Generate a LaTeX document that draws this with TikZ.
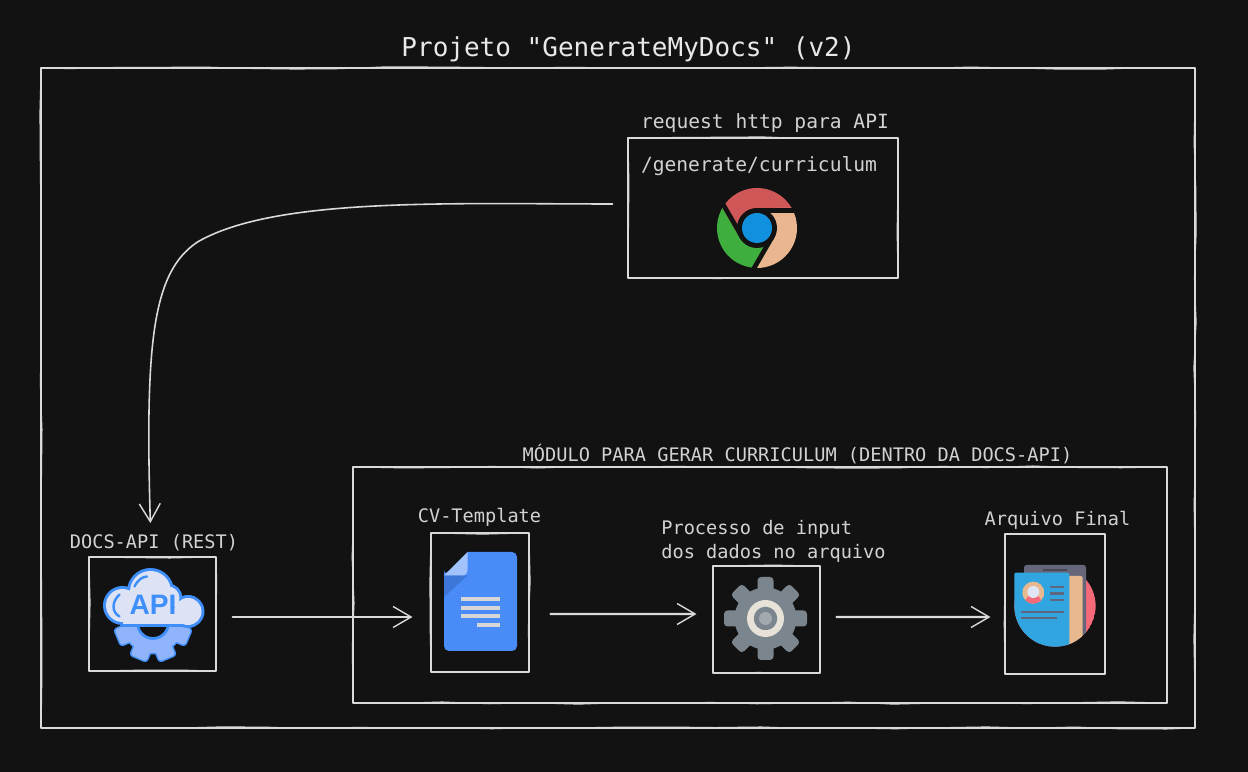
\documentclass[tikz,border=0pt]{standalone}
\usepackage{fontspec}
\setmainfont{Liberation Sans}
\setmonofont{DejaVu Sans Mono}
\usetikzlibrary{arrows.meta,decorations.pathmorphing}
\definecolor{bgcol}{HTML}{121212}
\definecolor{linecol}{HTML}{DADADA}
\definecolor{titlecol}{HTML}{E8E8E8}
\definecolor{labelcol}{HTML}{D2D2D2}
\definecolor{apiblue}{HTML}{3F8FFB}
\definecolor{apicloud}{HTML}{DDE3F5}
\definecolor{apigear}{HTML}{8FB4FB}
\definecolor{docblue}{HTML}{4A8CF7}
\definecolor{docfold}{HTML}{A1C2FA}
\definecolor{docshade}{HTML}{3D77D8}
\definecolor{gearcol}{HTML}{7A858E}
\definecolor{gearring}{HTML}{E6E2D8}
\definecolor{cvred}{HTML}{F56A78}
\definecolor{cvcard}{HTML}{66667A}
\definecolor{cvblue}{HTML}{31A5E0}
\definecolor{cvpeach}{HTML}{E8B88F}
\definecolor{cvline}{HTML}{5E6680}
\definecolor{chromered}{HTML}{CF5757}
\definecolor{chromegreen}{HTML}{3EAE3E}
\definecolor{chromepeach}{HTML}{EAB68F}
\definecolor{chromeblue}{HTML}{1190DD}
\tikzset{
    sketchbox/.style={draw=linecol, line width=0.6pt, inner sep=0pt,
        postaction={draw=linecol, line width=0.5pt, decorate,
            decoration={random steps, segment length=0.9cm, amplitude=0.7pt}}},
    sketcharrow/.style={draw=linecol, line width=0.9pt,
        -{Straight Barb[length=0.36cm, width=0.42cm, line width=0.8pt]}},
    titletext/.style={text=titlecol, font=\ttfamily\fontsize{14.8}{18}\selectfont},
    labeltext/.style={text=labelcol, font=\ttfamily\fontsize{10.6}{13.6}\selectfont},
    urltext/.style={text=labelcol, font=\ttfamily\fontsize{11.15}{14}\selectfont},
}
\begin{document}
\begin{tikzpicture}[line cap=round, line join=round]
    \pgfmathsetseed{7}
    \fill[bgcol] (0,0) rectangle (24.96,15.44);
    \useasboundingbox (0,0) rectangle (24.96,15.44);

    \node[titletext] (title) at (12.57,14.45) {Projeto "GenerateMyDocs" (v2)};
    \node[sketchbox, minimum width=23.08cm, minimum height=13.2cm] (outerbox) at (12.36,7.48) {};

    \node[urltext] (reqlabel) at (15.3,12.97) {request http para API};
    \node[sketchbox, minimum width=5.4cm, minimum height=2.8cm] (reqbox) at (15.26,11.28) {};
    \node[urltext] (url) at (15.18,12.12) {/generate/curriculum};

    \node[labeltext] (docslabel) at (3.08,4.59) {DOCS-API (REST)};
    \node[sketchbox, minimum width=2.54cm, minimum height=2.28cm] (docsbox) at (3.05,3.16) {};

    \node[labeltext] (modlabel) at (15.95,6.35) {MÓDULO PARA GERAR CURRICULUM (DENTRO DA DOCS-API)};
    \node[sketchbox, minimum width=16.28cm, minimum height=4.72cm] (modbox) at (15.2,3.74) {};

    \node[labeltext] (cvlabel) at (9.59,5.09) {CV-Template};
    \node[sketchbox, minimum width=1.96cm, minimum height=2.78cm] (cvbox) at (9.6,3.39) {};

    \node[labeltext, align=left] (proclabel) at (15.47,4.62) {Processo de input\\dos dados no arquivo};
    \node[sketchbox, minimum width=2.14cm, minimum height=2.14cm] (procbox) at (15.33,3.05) {};

    \node[labeltext] (finallabel) at (21.15,5.03) {Arquivo Final};
    \node[sketchbox, minimum width=2cm, minimum height=2.8cm] (finalbox) at (21.1,3.36) {};

    \draw[sketcharrow, shorten <=0.3cm, shorten >=0.1cm] ([yshift=0.08cm]reqbox.west)
        .. controls (9,11.36) and (5.5,11.5) .. (3.95,10.6)
        .. controls (3.05,10.0) and (2.9,8.6) .. ([xshift=-0.07cm]docslabel.north);
    \draw[sketcharrow, shorten <=0.32cm, shorten >=0.36cm] ([yshift=-0.06cm]docsbox.east) -- ([yshift=-0.29cm]cvbox.west);
    \draw[sketcharrow, line width=1.2pt, shorten <=0.42cm, shorten >=0.32cm] ([yshift=-0.23cm]cvbox.east) -- ([yshift=0.11cm]procbox.west);
    \draw[sketcharrow, line width=1.2pt, shorten <=0.32cm, shorten >=0.28cm] ([yshift=0.05cm]procbox.east) -- ([yshift=-0.26cm]finalbox.west);

    \begin{scope}[shift={(15.14,10.88)}]
        \foreach \col/\rot in {chromered/0, chromegreen/120, chromepeach/240}
            \fill[\col, rotate=\rot] (30:0.8) arc (30:150:0.8) -- (-0.346,-0.2) -- (0,0.4) -- cycle;
        \foreach \rot in {0,120,240}
            \draw[bgcol, line width=2.6pt, rotate=\rot] (0,0.35) -- (0.85,0.35);
        \fill[bgcol] (0,0) circle (0.4);
        \fill[chromeblue] (0,0) circle (0.3);
    \end{scope}

    \begin{scope}[shift={(3.06,2.98)}]
        \foreach \ang in {-22.5,-67.5,-112.5,-157.5}
            \draw[apiblue, line width=1.6pt, rounded corners=0.05cm, rotate=\ang] (0.45,-0.17) rectangle (0.76,0.17);
        \draw[apiblue, line width=1.6pt] (0,0) circle (0.6);
        \foreach \ang in {-22.5,-67.5,-112.5,-157.5}
            \fill[apigear, rounded corners=0.05cm, rotate=\ang] (0.45,-0.17) rectangle (0.76,0.17);
        \fill[apigear] (0,0) circle (0.6);
        \draw[apiblue, fill=bgcol, line width=1.6pt] (0,0) circle (0.31);
        \draw[apiblue, line width=3.4pt] (0.7,0.23) circle (0.27) (-0.05,0.63) circle (0.41) (-0.61,0.35) circle (0.33) (0.3,0.5) circle (0.23);
        \draw[apiblue, line width=3.4pt] (-0.61,-0.03) rectangle (0.7,0.3);
        \fill[apicloud] (0.7,0.23) circle (0.27) (-0.05,0.63) circle (0.41) (-0.61,0.35) circle (0.33) (0.3,0.5) circle (0.23);
        \fill[apicloud] (-0.61,-0.03) rectangle (0.7,0.3);
        \draw[apiblue, line width=1.4pt] (-0.37,0.73) .. controls (-0.3,0.87) and (-0.22,0.92) .. (-0.12,0.93);
        \draw[apiblue, line width=1.4pt] (-0.67,0.57) .. controls (-0.83,0.42) and (-0.83,0.22) .. (-0.67,0.13);
        \node[text=apiblue, font=\bfseries\fontsize{16}{16}\selectfont, inner sep=0pt] (apitext) at (0,0.36) {API};
    \end{scope}

    \fill[docblue] (8.88,3.93) -- (9.35,4.4) [rounded corners=0.1cm] -- (10.34,4.4) -- (10.34,2.42) -- (8.88,2.42) -- (8.88,3.93) -- cycle;
    \fill[docshade] (8.88,3.93) -- (9.35,3.93) -- (8.88,3.5) -- cycle;
    \fill[docfold] (9.35,4.4) -- (8.88,3.93) -- (9.25,3.93) .. controls (9.32,3.93) and (9.35,3.98) .. (9.35,4.03) -- cycle;
    \foreach \liney in {3.46,3.286,3.117}
        \fill[labelcol!90!white] (9.22,\liney-0.04) rectangle (10.0,\liney+0.04);
    \fill[labelcol!90!white] (9.54,2.9) rectangle (10.0,2.974);

    \begin{scope}[shift={(15.31,3.07)}]
        \foreach \ang in {0,45,...,315}
            \fill[gearcol, rounded corners=0.07cm, rotate=\ang] (0.4,-0.16) rectangle (0.83,0.16);
        \fill[gearcol] (0,0) circle (0.62);
        \fill[gearring] (0,0) circle (0.37);
        \fill[gearcol] (0,0) circle (0.235);
        \fill[gearcol!70!white] (0,0) circle (0.13);
    \end{scope}

    \begin{scope}[shift={(21.1,3.32)}]
        \clip (-0.813,0) arc (180:360:0.813) -- (0.813,1.0) -- (-0.813,1.0) -- cycle;
        \fill[cvred] (0,0) circle (0.813);
        \fill[cvcard, rounded corners=0.05cm] (-0.62,-0.9) rectangle (0.62,0.82);
        \fill[cvcard!70!black] (-0.233,0.69) rectangle (0.247,0.735);
        \fill[cvpeach, rounded corners=0.03cm] (0.2,-0.9) rectangle (0.553,0.6);
        \fill[cvblue, rounded corners=0.03cm] (-0.82,-0.9) rectangle (0.287,0.667);
        \begin{scope}
            \clip (-0.433,0.267) circle (0.22);
            \fill[cvpeach] (-0.433,0.267) circle (0.22);
            \fill[cvred] (-0.433,0.053) circle (0.17);
        \end{scope}
        \fill[apicloud!90!white] (-0.433,0.28) circle (0.12);
        \foreach \liney in {0.38,0.247,0.12}
            \draw[cvline, line width=1.5pt, line cap=butt] (-0.1,\liney) -- (0.18,\liney);
        \draw[cvline, line width=1.5pt, line cap=butt] (-0.68,-0.12) -- (0.18,-0.12);
        \draw[cvline, line width=1.5pt, line cap=butt] (-0.68,-0.24) -- (0.033,-0.24);
    \end{scope}
\end{tikzpicture}
\end{document}
